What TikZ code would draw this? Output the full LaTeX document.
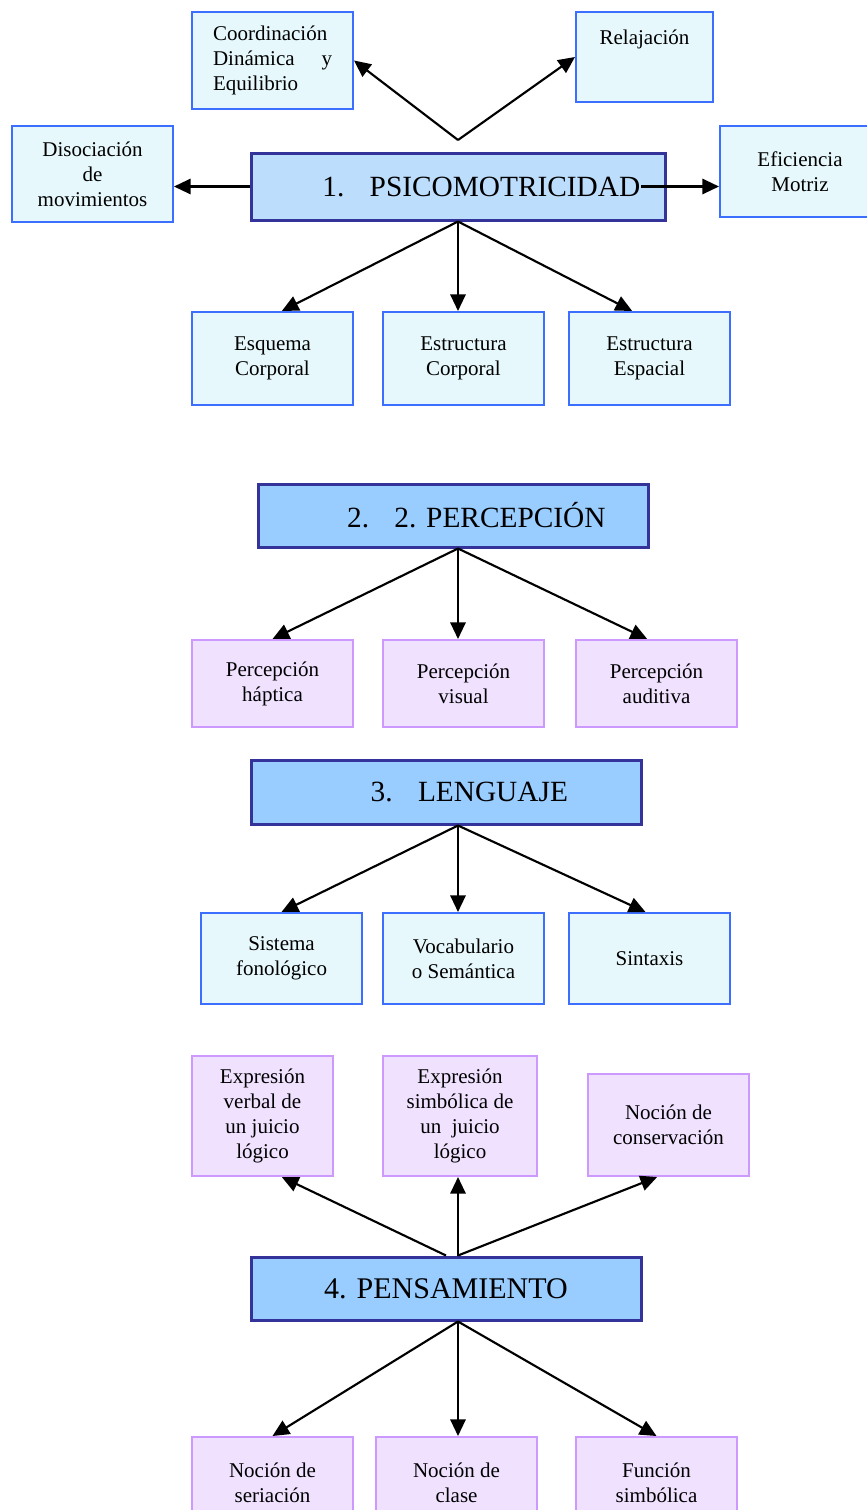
\documentclass[tikz,border=0pt]{standalone}
\usepackage{fontspec}
\setmainfont{Liberation Serif}
\usetikzlibrary{arrows.meta}
\definecolor{cielo}{RGB}{230,248,252}
\definecolor{bordeazul}{RGB}{60,110,255}
\definecolor{lila}{RGB}{240,226,255}
\definecolor{bordelila}{RGB}{204,153,255}
\definecolor{azulclaro}{RGB}{189,221,252}
\definecolor{azul}{RGB}{153,204,255}
\definecolor{marino}{RGB}{51,51,153}
\newcommand{\tema}[2]{\hspace*{35pt}#1\hspace{19pt}#2}

\begin{document}
\begin{tikzpicture}[x=0.75pt, y=-0.75pt,
  sub/.style = {draw=bordeazul, fill=cielo, line width=1.5pt, minimum width=120.75pt, minimum height=69.75pt, inner sep=0pt, align=center, font=\fontsize{15.75}{18.75}\selectfont},
  subl/.style = {sub, draw=bordelila, fill=lila},
  main/.style = {draw=marino, fill=azul, line width=2.25pt, minimum width=292.5pt, minimum height=47.25pt, inner sep=0pt, font=\fontsize{22}{26}\selectfont},
  flecha/.style = {line width=1.6pt, -{Triangle[length=12.5pt,width=11.5pt]}}]
		\useasboundingbox (0,0) rectangle (867,1510);
		\node[main, fill=azulclaro, minimum width=310.5pt, minimum height=50.25pt] (psico) at (458,186.5) {\tema{1.}{PSICOMOTRICIDAD}};
		\node[sub, minimum height=72.75pt, text width=89.25pt, align=left] (coord) at (272.5,60.5) {Coordinación\\ Dinámica\hfill y\\ Equilibrio};
		\node[sub, minimum width=102.75pt, minimum height=67.5pt] (relaj) at (644.5,57) {Relajación\\[6pt]\strut};
		\node[sub, minimum height=72pt] (disoc) at (92.5,174) {Disociación\\ de\\ movimientos};
		\node[sub, minimum width=120pt, minimum height=68.25pt] (efic) at (800,171.5) {Eficiencia\\ Motriz};
		\node[sub] (esquema) at (272.5,358.5) {Esquema\\ Corporal};
		\node[sub] (estrcorp) at (463.5,358.5) {Estructura\\ Corporal};
		\node[sub] (estresp) at (649.5,358.5) {Estructura\\ Espacial};
		\coordinate (pico) at (458,140);
		\draw[flecha] (pico) -- (coord.east);
		\draw[flecha] (pico) -- (relaj.west);
		\draw[flecha] (psico.west) -- (psico.west -| disoc.east);
		\draw[flecha] ([xshift=-19pt]psico.east) -- (psico.east -| efic.west);
		\draw[flecha] (psico.south) -- ([xshift=7pt]esquema.north);
		\draw[flecha] (psico.south) -- (psico.south |- estrcorp.north);
		\draw[flecha] (psico.south) -- ([xshift=-13pt]estresp.north);

		\node[main] (perc) at (453,515.5) {\tema{2.}{2. PERCEPCIÓN}};
		\node[subl, minimum height=65.25pt] (haptica) at (272.5,683.5) {Percepción\\ háptica};
		\node[subl, minimum height=65.25pt] (visual) at (463.5,683.5) {Percepción\\ visual};
		\node[subl, minimum height=65.25pt] (auditiva) at (656.5,683.5) {Percepción\\ auditiva};
		\draw[flecha] ([xshift=3.75pt]perc.south) -- (haptica.north);
		\draw[flecha] ([xshift=3.75pt]perc.south) -- ([xshift=3.75pt]perc.south |- visual.north);
		\draw[flecha] ([xshift=3.75pt]perc.south) -- ([xshift=-7pt]auditiva.north);

		\node[main, minimum height=48pt] (leng) at (446,792) {\tema{3.}{LENGUAJE}};
		\node[sub, minimum height=68.25pt] (sistema) at (281.5,958.5) {Sistema\\ fonológico};
		\node[sub, minimum height=68.25pt] (vocab) at (463.5,958.5) {Vocabulario\\ o Semántica};
		\node[sub, minimum height=68.25pt] (sintaxis) at (649.5,958.5) {Sintaxis};
		\draw[flecha] ([xshift=9pt]leng.south) -- (sistema.north);
		\draw[flecha] ([xshift=9pt]leng.south) -- ([xshift=9pt]leng.south |- vocab.north);
		\draw[flecha] ([xshift=9pt]leng.south) -- ([xshift=-3pt]sintaxis.north);

		\node[main, font=\fontsize{22.5}{26}\selectfont] (pens) at (446,1288.5) {4. PENSAMIENTO};
		\node[subl, minimum width=105.75pt, minimum height=90pt] (verbal) at (262.5,1116) {Expresión\\ verbal de\\ un juicio\\ lógico};
		\node[subl, minimum width=115.5pt, minimum height=90pt] (simbolica) at (460,1116) {Expresión\\ simbólica de\\ un\ \ juicio\\ lógico};
		\node[subl, minimum height=76.5pt] (conserv) at (668.5,1125) {Noción de\\ conservación};
		\node[subl, minimum height=68.25pt] (seriacion) at (272.5,1482.5) {Noción de\\ seriación};
		\node[subl, minimum height=68.25pt] (clase) at (456.5,1482.5) {Noción de\\ clase};
		\node[subl, minimum height=68.25pt] (funcion) at (656.5,1482.5) {Función\\ simbólica};
		\draw[flecha] (pens.north) -- ([xshift=14.5pt]verbal.south);
		\draw[flecha] ([xshift=9pt]pens.north) -- ([xshift=9pt]pens.north |- simbolica.south);
		\draw[flecha] ([xshift=9pt]pens.north) -- ([xshift=-8.5pt]conserv.south);
		\draw[flecha] ([xshift=9pt]pens.south) -- (seriacion.north);
		\draw[flecha] ([xshift=9pt]pens.south) -- ([xshift=9pt]pens.south |- clase.north);
		\draw[flecha] ([xshift=9pt]pens.south) -- (funcion.north);
	\end{tikzpicture}
\end{document}
